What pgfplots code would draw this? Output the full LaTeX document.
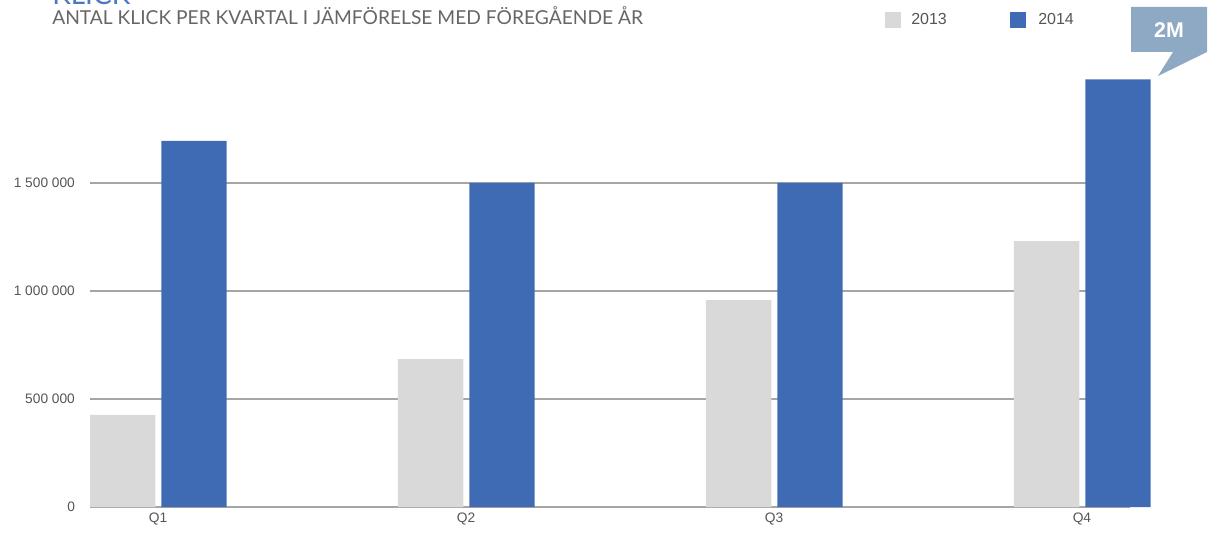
\documentclass[border=0pt]{standalone}
\usepackage{pgfplots}
\pgfplotsset{compat=1.18}
\usepackage{fontspec}
\setmainfont{Liberation Sans}
\newfontfamily\latofont{Lato}
\definecolor{g13}{HTML}{D9D9D9}
\definecolor{b14}{HTML}{3F6BB4}
\definecolor{callout}{HTML}{8EA9C4}
\definecolor{titleblue}{HTML}{4A78C2}
\definecolor{txt}{HTML}{555555}
\definecolor{subtxt}{HTML}{666666}
\definecolor{gridc}{HTML}{A6A6A6}
\begin{document}
\begin{tikzpicture}
\useasboundingbox (-67.5pt,-18.75pt) rectangle (841.5pt,380.25pt);
\begin{axis}[
  at={(0,0)}, anchor=south west, scale only axis,
  width=780pt, height=324pt,
  xmin=-0.2208, xmax=3.156, ymin=0, ymax=2000000,
  ybar, bar width=49pt,
  xtick={0,1,2,3}, xticklabels={Q1,Q2,Q3,Q4},
  ytick={0,500000,1000000,1500000},
  yticklabels={0,500 000,1 000 000,1 500 000},
  scaled y ticks=false,
  ymajorgrids, grid style={gridc, line width=0.8pt},
  axis lines=left,
  y axis line style={draw=none},
  x axis line style={-, gridc, line width=0.8pt},
  major tick length=0pt,
  tick label style={font=\fontsize{10.3}{12}\selectfont, text=txt},
  yticklabel style={xshift=-7.8pt},
  xticklabel style={yshift=-1pt},
  clip=false,
]
\addplot[fill=g13, draw=none, bar shift=-26.5pt] coordinates {(0,426000) (1,685000) (2,958000) (3,1231000)};
\addplot[fill=b14, draw=none, bar shift=27pt] coordinates {(0,1695000) (1,1500000) (2,1500000) (3,1980000)};
\end{axis}
\begin{scope}[x=0.75pt, y=-0.75pt, shift={(-67.5pt,380.25pt)}]
  \node[anchor=base west, inner sep=0, text=titleblue, font=\latofont\fontsize{21}{24}\selectfont] at (52,5) {KLICK};
  \node[anchor=base west, inner sep=0, text=subtxt, font=\latofont\fontsize{14.4}{16}\selectfont] at (52,25) {ANTAL KLICK PER KVARTAL I JÄMFÖRELSE MED FÖREGÅENDE ÅR};
  \fill[g13] (885,12) rectangle (901,28);
  \node[anchor=base west, inner sep=0, text=txt, font=\fontsize{12}{14}\selectfont] at (911,25) {2013};
  \fill[b14] (1010,12) rectangle (1026,28);
  \node[anchor=base west, inner sep=0, text=txt, font=\fontsize{12}{14}\selectfont] at (1038,25) {2014};
  \fill[callout] (1131,7) -- (1207,7) -- (1207,52) -- (1158,76) -- (1173,52) -- (1131,52) -- cycle;
  \node[text=white, inner sep=0, font=\bfseries\fontsize{16}{18}\selectfont] at (1169,30) {2M};
\end{scope}
\end{tikzpicture}
\end{document}
